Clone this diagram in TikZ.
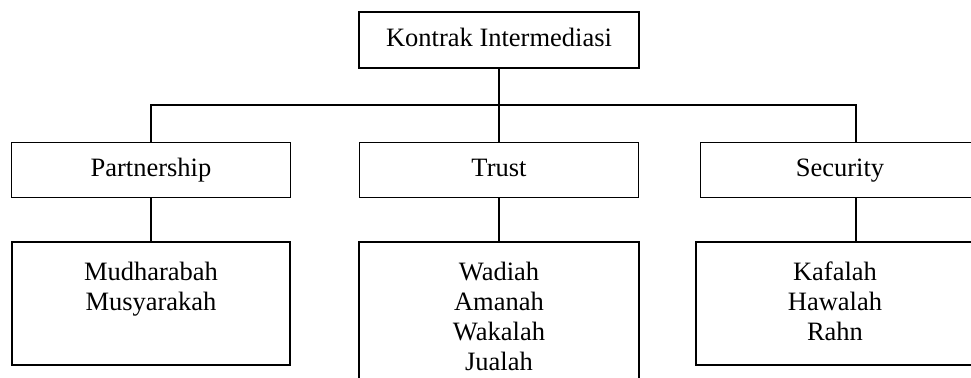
\documentclass[tikz,border=0pt]{standalone}
\usepackage{fontspec}
\setmainfont{Liberation Serif}
\usetikzlibrary{positioning}

\begin{document}
\begin{tikzpicture}[line width=0.9pt,on grid,
    every node/.style={font=\fontsize{13.25}{15}\selectfont},
    head/.style={draw,minimum width=140pt,minimum height=28pt,text height=.7em,text depth=0pt},
    group/.style={draw,minimum width=139.5pt,minimum height=27.5pt,text height=.7em,text depth=0pt},
    listbox/.style={draw,minimum width=139pt,minimum height=61.5pt,anchor=north},
    listtext/.style={align=center,anchor=north,yshift=-6.5pt}]
  \useasboundingbox (0,0) rectangle (485.5pt,-189pt);
  % top and the three groups
  \node[head] (kontrak) at (249.5pt,-20pt) {Kontrak Intermediasi};
  \node[group] (part) [below left=65pt and 174pt of kontrak] {Partnership};
  \node[group] (trust) [below=65pt of kontrak] {Trust};
  \node[group] (sec) [below right=65pt and 170.5pt of kontrak] {Security};
  % contract lists
  \node[listbox] (partlist) at ([yshift=-21.5pt]part.south) {};
  \node[listbox,minimum width=140pt,minimum height=80pt] (trustlist) at ([yshift=-21.5pt]trust.south) {};
  \node[listbox] (seclist) at ([xshift=-2.5pt,yshift=-21.5pt]sec.south) {};
  \node[listtext] (partitems) at (partlist.north) {Mudharabah\\Musyarakah};
  \node[listtext] (trustitems) at (trustlist.north) {Wadiah\\Amanah\\Wakalah\\Jualah};
  \node[listtext] (secitems) at (seclist.north) {Kafalah\\Hawalah\\Rahn};
  % connectors
  \coordinate (bar) at ([yshift=-18pt]kontrak.south);
  \draw (kontrak) -- (trust);
  \draw (part.north) |- (bar) -| ([xshift=8pt]sec.north);
  \draw (part) -- (partlist);
  \draw (trust) -- (trustlist);
  \draw ([xshift=8pt]sec.south) -- ([xshift=8pt]sec.south |- seclist.north);
\end{tikzpicture}
\end{document}
